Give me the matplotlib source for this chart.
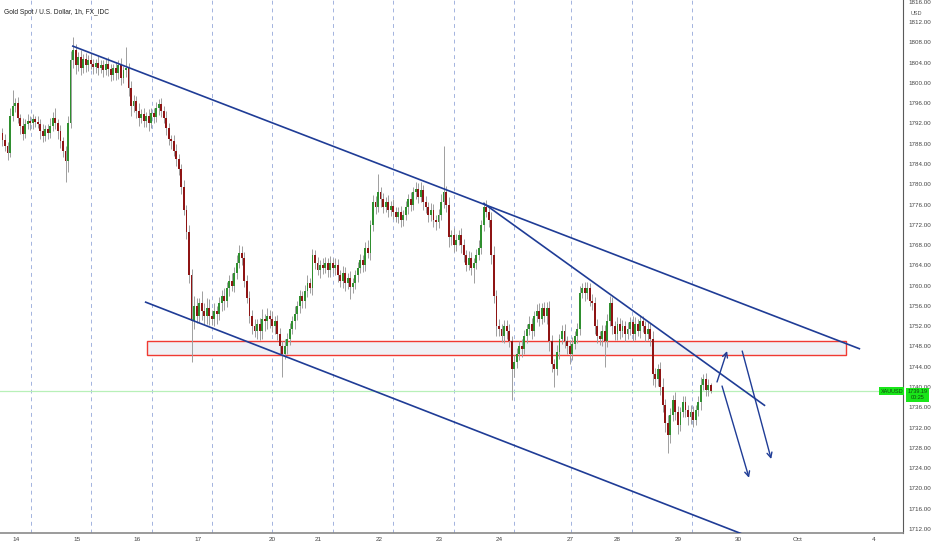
import numpy as np
import matplotlib
matplotlib.use("Agg")
import matplotlib.pyplot as plt
from matplotlib.patches import Rectangle

plt.rcParams['font.family'] = ['Liberation Sans', 'DejaVu Sans']

# hourly closes, XAUUSD
first_open = 1790.2
closes = [
    1788.8, 1787.5, 1786.2, 1793.5, 1795.5, 1796.0, 1793.0, 1791.5, 1790.0, 1791.8, 1792.5, 1792.0, 1792.8, 1792.3, 1791.8, 1790.5, 1789.5, 1790.8, 1790.2, 1791.5,
    1793.0, 1792.0, 1790.5, 1788.5, 1786.5, 1784.5, 1792.0, 1804.5, 1806.5, 1803.5, 1805.0, 1803.0, 1804.8, 1803.5, 1804.5, 1803.8, 1803.2, 1804.0, 1803.0, 1803.5,
    1802.5, 1803.8, 1802.8, 1801.5, 1803.0, 1802.0, 1803.5, 1801.0, 1802.5, 1803.0, 1799.0, 1795.5, 1796.5, 1794.5, 1793.0, 1793.8, 1792.5, 1793.5, 1792.0, 1794.0,
    1793.2, 1795.0, 1795.8, 1794.5, 1793.0, 1791.0, 1789.0, 1788.5, 1786.5, 1785.0, 1783.0, 1779.5, 1775.0, 1770.5, 1762.0, 1753.0, 1756.0, 1754.0, 1756.5, 1755.0,
    1754.0, 1755.5, 1754.0, 1753.5, 1755.0, 1754.5, 1756.5, 1758.0, 1757.0, 1759.5, 1761.0, 1760.0, 1762.5, 1764.5, 1766.5, 1765.5, 1761.0, 1757.5, 1754.0, 1752.0,
    1751.0, 1752.5, 1751.0, 1753.5, 1753.0, 1754.0, 1753.5, 1752.0, 1753.0, 1750.5, 1748.0, 1746.5, 1748.0, 1749.5, 1751.5, 1753.0, 1754.5, 1756.0, 1758.0, 1757.0,
    1759.0, 1760.5, 1759.5, 1766.0, 1764.5, 1763.0, 1764.0, 1763.5, 1764.5, 1763.0, 1764.5, 1763.5, 1764.0, 1762.0, 1761.0, 1762.5, 1760.5, 1761.5, 1759.8, 1760.5,
    1762.0, 1763.5, 1765.0, 1764.0, 1767.5, 1766.5, 1772.0, 1776.5, 1775.5, 1778.5, 1777.0, 1775.5, 1776.5, 1775.0, 1775.8, 1774.5, 1773.5, 1774.5, 1773.0, 1774.0,
    1775.5, 1777.0, 1776.0, 1778.5, 1779.0, 1777.5, 1778.8, 1776.5, 1775.5, 1774.0, 1775.0, 1773.0, 1772.5, 1774.0, 1776.5, 1778.5, 1776.0, 1769.5, 1770.0, 1768.0,
    1769.0, 1770.0, 1768.0, 1766.0, 1764.0, 1765.5, 1763.5, 1764.5, 1766.0, 1767.5, 1772.0, 1775.5, 1774.5, 1773.0, 1766.0, 1758.0, 1752.0, 1751.5, 1750.0, 1752.0,
    1751.0, 1749.0, 1743.5, 1745.0, 1746.5, 1748.0, 1747.5, 1750.0, 1751.5, 1752.5, 1751.0, 1754.0, 1755.0, 1753.5, 1755.5, 1754.0, 1755.5, 1749.0, 1744.5, 1743.5,
    1747.0, 1749.5, 1751.0, 1749.0, 1748.0, 1746.5, 1748.5, 1750.0, 1751.5, 1758.5, 1759.5, 1758.5, 1759.5, 1757.0, 1756.5, 1752.0, 1750.0, 1749.5, 1751.0, 1749.0,
    1753.0, 1756.5, 1752.0, 1750.5, 1752.5, 1751.0, 1752.0, 1750.5, 1751.5, 1752.8, 1750.5, 1752.5, 1751.0, 1753.0, 1752.0, 1750.5, 1751.5, 1749.5, 1742.5, 1741.5,
    1743.5, 1740.0, 1736.5, 1733.0, 1730.5, 1734.5, 1737.5, 1735.0, 1732.5, 1735.0, 1737.0, 1735.5, 1734.0, 1735.0, 1733.5, 1735.5, 1737.0, 1740.5, 1741.5, 1739.5, 1740.5, 1739.19,
]
# wick length above / below the body
wick_up = [
    0.8, 1.2, 0.9, 1.5, 3.0, 1.0, 1.2, 0.8, 1.5, 1.0, 1.3, 0.9, 1.1, 0.7, 1.2, 1.0, 1.4, 0.8, 1.0, 1.6,
    1.2, 2.0, 0.9, 1.1, 0.8, 1.0, 1.5, 1.8, 2.5, 1.2, 1.0, 1.4, 0.8, 1.1, 0.9, 1.3, 1.0, 0.8, 1.2, 1.0,
    1.1, 0.9, 1.3, 1.0, 0.8, 1.2, 1.0, 1.4, 0.9, 4.0, 1.0, 1.3, 1.2, 0.9, 1.5, 1.0, 1.2, 0.8, 1.4, 1.1,
    1.0, 1.3, 1.0, 1.2, 0.9, 1.4, 1.1, 0.8, 1.2, 1.5, 1.0, 0.9, 1.3, 1.0, 1.5, 1.2, 2.0, 1.5, 1.0, 2.5,
    1.5, 2.0, 1.8, 1.2, 1.5, 1.0, 1.3, 1.1, 1.5, 1.2, 1.0, 1.4, 1.2, 1.5, 1.5, 1.3, 1.2, 1.0, 1.5, 1.2,
    1.5, 1.0, 1.2, 1.8, 1.0, 1.5, 1.2, 1.5, 1.0, 1.3, 1.2, 1.0, 1.4, 1.1, 1.2, 1.0, 1.5, 0.9, 1.2, 1.0,
    1.2, 1.5, 1.0, 1.3, 1.1, 1.2, 1.0, 1.5, 1.2, 1.0, 1.3, 1.0, 1.5, 1.2, 1.0, 1.3, 1.2, 1.0, 1.4, 1.1,
    1.0, 1.2, 1.3, 1.0, 1.2, 1.5, 1.0, 1.3, 1.2, 3.5, 1.0, 1.2, 1.0, 1.4, 0.9, 1.2, 1.0, 1.1, 1.3, 1.0,
    1.2, 1.0, 1.4, 1.0, 1.5, 1.2, 1.7, 1.0, 1.2, 1.0, 1.3, 1.1, 1.0, 1.2, 1.5, 9.0, 1.2, 1.5, 1.0, 1.3,
    1.2, 1.0, 1.4, 1.2, 1.0, 1.3, 1.1, 1.0, 1.2, 1.5, 1.0, 1.0, 1.3, 1.2, 1.5, 1.8, 1.2, 1.5, 1.0, 1.3,
    1.2, 1.5, 1.0, 1.3, 1.2, 1.0, 1.4, 1.2, 1.0, 1.5, 1.2, 1.0, 1.3, 1.5, 1.0, 1.2, 1.3, 1.5, 1.2, 1.0,
    1.3, 1.0, 1.2, 1.5, 1.0, 1.2, 1.4, 1.0, 1.2, 1.5, 1.0, 1.3, 1.2, 1.0, 1.4, 1.2, 1.5, 1.0, 1.2, 1.3,
    1.5, 1.5, 1.2, 1.0, 1.3, 1.1, 1.2, 1.0, 1.4, 1.0, 1.2, 1.3, 1.0, 1.2, 1.1, 1.0, 1.3, 1.2, 1.5, 1.2,
    1.0, 1.5, 1.8, 1.2, 1.5, 1.3, 1.0, 1.5, 1.2, 1.0, 1.3, 1.2, 1.0, 1.4, 1.2, 1.0, 1.3, 1.5, 1.0, 1.2, 1.0, 0.3,
]
wick_dn = [
    1.2, 1.0, 1.5, 0.8, 1.0, 1.3, 1.0, 1.5, 1.2, 0.9, 1.0, 1.4, 1.1, 1.0, 0.8, 1.5, 1.2, 1.0, 1.3, 1.0,
    1.0, 1.2, 1.5, 1.3, 1.2, 4.0, 2.0, 1.0, 1.5, 1.8, 1.2, 1.5, 1.0, 1.3, 1.2, 1.0, 1.4, 1.2, 1.5, 1.0,
    1.3, 1.0, 1.5, 1.2, 1.0, 1.4, 1.2, 1.5, 1.0, 1.3, 1.5, 2.0, 1.2, 1.4, 1.5, 1.0, 1.3, 1.2, 1.5, 1.0,
    1.2, 1.0, 1.4, 1.2, 1.0, 1.3, 1.2, 1.5, 1.0, 1.4, 1.2, 1.5, 1.0, 1.3, 1.5, 8.0, 1.5, 1.3, 1.2, 1.8,
    1.5, 1.5, 1.8, 1.2, 1.5, 2.0, 1.2, 1.5, 1.8, 1.2, 1.5, 1.0, 1.3, 1.2, 1.0, 1.4, 1.2, 1.0, 1.3, 1.5,
    1.2, 1.5, 1.8, 1.5, 2.0, 1.5, 1.8, 1.2, 1.5, 1.3, 1.5, 4.5, 1.0, 1.4, 1.2, 1.0, 1.5, 1.2, 1.4, 1.5,
    1.5, 1.2, 1.0, 1.3, 1.2, 1.0, 1.4, 1.2, 1.0, 1.3, 1.2, 1.0, 1.5, 1.3, 1.2, 1.4, 1.5, 1.2, 2.5, 1.2,
    1.2, 1.2, 1.0, 1.3, 1.2, 1.0, 1.5, 1.2, 1.3, 1.0, 1.4, 1.2, 1.0, 1.5, 1.2, 1.3, 1.0, 1.2, 1.5, 1.2,
    1.0, 1.3, 1.2, 1.0, 1.4, 1.2, 1.0, 1.5, 1.2, 1.5, 1.3, 1.4, 1.5, 1.2, 1.0, 1.2, 1.5, 1.8, 1.5, 1.3,
    1.2, 1.0, 1.5, 1.3, 1.2, 1.0, 1.4, 3.0, 1.2, 1.0, 1.3, 1.2, 1.0, 1.5, 1.8, 1.5, 2.0, 1.5, 1.2, 1.3,
    1.5, 1.2, 6.0, 1.5, 1.3, 1.2, 1.5, 1.0, 1.3, 1.2, 1.5, 1.0, 1.2, 1.4, 1.0, 1.2, 1.5, 1.8, 1.5, 3.5,
    1.2, 1.5, 1.0, 1.3, 1.5, 2.0, 1.2, 1.0, 1.3, 1.2, 1.0, 1.5, 1.2, 1.0, 1.4, 1.5, 1.3, 1.2, 1.5, 5.0,
    1.2, 1.0, 1.5, 1.3, 1.2, 1.5, 1.2, 1.4, 1.0, 1.3, 1.5, 1.2, 1.0, 1.3, 1.2, 1.5, 1.2, 1.5, 2.0, 1.5,
    1.2, 1.5, 1.5, 1.8, 3.5, 1.5, 1.2, 1.5, 1.8, 1.2, 1.0, 1.4, 1.5, 1.2, 1.3, 1.0, 1.2, 1.5, 1.0, 1.3, 1.2, 0.4,
]

# time axis (bar index positions)
day_labels = ["14", "15", "16", "17", "20", "21", "22", "23", "24", "27", "28", "29", "30", "Oct", "4"]
day_pos = [5.4, 29.6, 53.4, 77.6, 107.0, 125.2, 149.4, 173.2, 197.0, 225.2, 243.9, 268.0, 291.9, 315.7, 345.8]
session_lines = [11.3, 35.1, 59.3, 83.1, 107.0, 131.2, 155.0, 179.2, 203.0, 225.6, 249.8, 273.6]
price_ticks = list(range(1712, 1820, 4))

# drawings: (bar, price)
upper_channel = [(27.6, 1807.3), (340.3, 1747.5)]
lower_channel = [(56.5, 1756.8), (294.6, 1710.8)]
inner_trend = [(190.7, 1776.3), (302.6, 1736.3)]
zone = (57.3, 334.7, 1746.3, 1749.1)
last_price = 1739.19
arrows = [
    ((283.5, 1741.0), (287.5, 1747.1)),
    ((285.5, 1740.2), (296.2, 1722.1)),
    ((293.5, 1747.1), (305.0, 1725.8)),
]

n = len(closes)
x = np.arange(n)
c = np.array(closes)
o = np.concatenate([[first_open], c[:-1]])
hi = np.maximum(o, c) + np.array(wick_up[:n])
lo = np.minimum(o, c) - np.array(wick_dn[:n])
up = c >= o

fig = plt.figure(figsize=(9.32, 5.5), dpi=100)
ax = fig.add_axes([0, 17 / 550, 903 / 932, 533 / 550])
ax.set_xlim(-0.99, 357.3)
ax.set_ylim(1711.21, 1816.34)

for xv in session_lines:
    ax.axvline(xv, color="#a3b3de", lw=0.7, ls=(0, (4, 4)), zorder=0)

ax.axhline(last_price, color="#b8f0b8", lw=0.9, zorder=1)

ax.add_patch(Rectangle((zone[0], zone[2]), zone[1] - zone[0], zone[3] - zone[2],
                       facecolor="#f0f1f5", edgecolor="#f03a32", lw=1.0, zorder=1))

ax.vlines(x, lo, hi, color="#9e9e9e", lw=0.7, zorder=2)
body = np.maximum(np.abs(c - o), 0.25)
ax.bar(x[up], body[up], bottom=np.minimum(o, c)[up], width=0.75, color="#2f8f2f", zorder=3)
ax.bar(x[~up], body[~up], bottom=np.minimum(o, c)[~up], width=0.75, color="#8e1414", zorder=3)

blue = "#1f3c96"
for line in (upper_channel, lower_channel, inner_trend):
    ax.plot([p[0] for p in line], [p[1] for p in line], color=blue, lw=1.2, zorder=4,
            solid_capstyle="butt")

for start, end in arrows:
    ax.annotate("", xy=end, xytext=start,
                arrowprops=dict(arrowstyle="->", color=blue, lw=1.0, mutation_scale=9,
                                shrinkA=0, shrinkB=0), zorder=5)

# axes look
for s in ("top", "left"):
    ax.spines[s].set_visible(False)
ax.spines["right"].set_color("#5a5a5a")
ax.spines["bottom"].set_color("#8a8a8a")
ax.spines["bottom"].set_linewidth(1.2)
ax.yaxis.tick_right()
ax.set_yticks(price_ticks)
ax.set_yticklabels([f"{p:.2f}" for p in price_ticks])
ax.tick_params(axis="y", length=0, pad=4, labelsize=4.5, labelcolor="#444444")
ax.set_xticks(day_pos)
ax.set_xticklabels(day_labels)
ax.tick_params(axis="x", length=0, pad=3, labelsize=4.6, labelcolor="#444444")

ax.text(0.004, 0.977, "Gold Spot / U.S. Dollar, 1h, FX_IDC", transform=ax.transAxes,
        fontsize=4.8, color="#222222", va="center", ha="left")
ax.text(1.015, 1811.3 + 2.3, "USD", transform=ax.get_yaxis_transform(), fontsize=4.0,
        color="#555555", ha="center", va="center", clip_on=False)

ax.text(0.9875, last_price, "XAUUSD", transform=ax.get_yaxis_transform(), fontsize=4.0,
        color="#114411", ha="center", va="center", zorder=10,
        bbox=dict(boxstyle="square,pad=0.25", facecolor="#19e619", edgecolor="none"))
ax.text(1.016, last_price - 0.7, "1739.19\n00:25", transform=ax.get_yaxis_transform(),
        fontsize=4.0, color="#114411", ha="center", va="center", zorder=10, clip_on=False,
        linespacing=1.1,
        bbox=dict(boxstyle="square,pad=0.3", facecolor="#19e619", edgecolor="none"))

fig.savefig("out.png", dpi=100)
